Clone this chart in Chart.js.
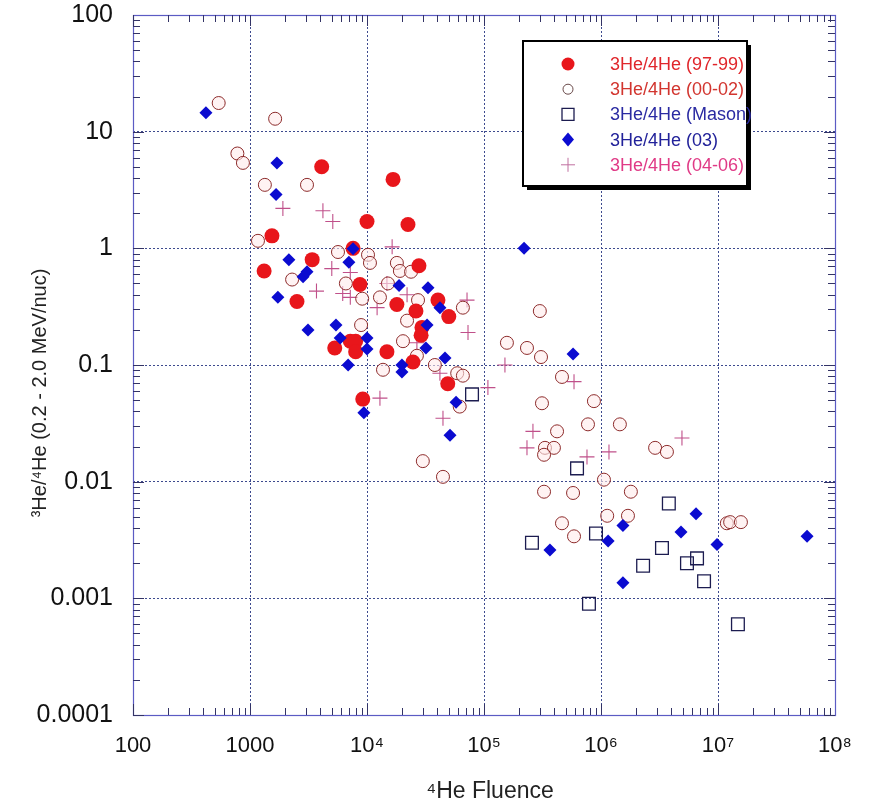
<!DOCTYPE html>
<html>
<head>
<meta charset="utf-8">
<script src="https://cdn.jsdelivr.net/npm/chart.js@4.4.1/dist/chart.umd.min.js"></script>
<style>
  html, body { margin: 0; padding: 0; background: #fff; }
  #wrap { width: 876px; height: 807px; position: relative; }
</style>
</head>
<body>
<div id="wrap"><canvas id="heChart" width="876" height="807"></canvas></div>
<script>
// --- data (4He fluence vs 3He/4He ratio) ---
var fluence9799 = [4100, 16700, 10000, 22400, 1540, 7600, 3400, 1320, 8700, 2520, 27800, 18000, 40400, 26200, 50000, 29500, 29000, 5300, 7200, 8000, 8000, 14800, 24700, 49000, 9200];
var ratio9799   = [5.0, 3.9, 1.7, 1.6, 1.28, 1.0, 0.80, 0.64, 0.49, 0.35, 0.71, 0.33, 0.36, 0.29, 0.26, 0.21, 0.18, 0.14, 0.16, 0.16, 0.13, 0.13, 0.106, 0.069, 0.051];

var fluence0002 = [540, 1640, 780, 870, 1340, 3070, 1170, 5650, 10200, 10600, 2290, 6600, 9100, 12900, 18000, 19100, 23800, 15100, 27300, 66000, 22000, 20300, 26700, 38000, 59000, 66000, 62000, 13700, 30000, 44600, 300000, 157000, 233000, 307000, 464000, 313000, 870000, 774000, 1450000, 421000, 332000, 396000, 326000, 2900000, 3660000, 1060000, 326000, 577000, 1800000, 1130000, 1700000, 464000, 588000, 11900000, 12700000, 15700000, 8900];
var ratio0002   = [17.6, 12.9, 6.5, 5.4, 3.5, 3.5, 1.16, 0.93, 0.88, 0.75, 0.54, 0.50, 0.37, 0.38, 0.75, 0.64, 0.63, 0.50, 0.36, 0.31, 0.24, 0.16, 0.12, 0.10, 0.085, 0.081, 0.044, 0.091, 0.015, 0.011, 0.29, 0.155, 0.14, 0.117, 0.079, 0.047, 0.049, 0.031, 0.031, 0.027, 0.0195, 0.0195, 0.017, 0.0195, 0.018, 0.0104, 0.0082, 0.0080, 0.0082, 0.0051, 0.0051, 0.0044, 0.0034, 0.0044, 0.0045, 0.0045, 0.22];

var fluenceMason = [79000, 624000, 3800000, 257000, 906000, 3320000, 2290000, 5430000, 6620000, 7600000, 789000, 14800000];
var ratioMason   = [0.056, 0.013, 0.0065, 0.0030, 0.0036, 0.0027, 0.0019, 0.0020, 0.0022, 0.0014, 0.0009, 0.0006];

var fluence03 = [420, 1700, 1670, 2150, 7600, 7000, 2840, 3070, 1730, 3130, 5430, 5900, 10000, 10000, 6900, 9400, 18800, 33200, 42000, 32600, 31900, 19900, 19900, 46400, 57700, 51200, 220000, 577000, 366000, 1150000, 1540000, 1540000, 4830000, 6490000, 9800000, 57700000];
var ratio03   = [14.5, 5.4, 2.9, 0.8, 0.99, 0.76, 0.57, 0.63, 0.38, 0.20, 0.22, 0.17, 0.17, 0.137, 0.10, 0.039, 0.48, 0.46, 0.31, 0.22, 0.14, 0.10, 0.087, 0.115, 0.048, 0.025, 1.0, 0.124, 0.0026, 0.0031, 0.0042, 0.00136, 0.0037, 0.0053, 0.0029, 0.0034];

var fluence0406 = [1910, 4200, 5100, 5000, 7200, 3700, 6200, 7200, 14800, 12200, 16400, 22000, 71600, 73000, 26700, 42000, 12900, 44600, 108000, 151000, 262000, 588000, 233000, 759000, 1170000, 4920000];
var ratio0406   = [2.2, 2.1, 1.7, 0.67, 0.62, 0.43, 0.41, 0.38, 0.5, 0.31, 1.03, 0.40, 0.36, 0.19, 0.155, 0.085, 0.052, 0.035, 0.064, 0.10, 0.027, 0.072, 0.0195, 0.0163, 0.018, 0.0237];

// axis ticks
var xTickValues = [1e2, 1e3, 1e4, 1e5, 1e6, 1e7, 1e8];
var xTickLabels = ['100', '1000', '10\u2074', '10\u2075', '10\u2076', '10\u2077', '10\u2078'];
var yTickValues = [1e-4, 1e-3, 1e-2, 1e-1, 1, 10, 100];
var yTickLabels = ['0.0001', '0.001', '0.01', '0.1', '1', '10', '100'];

var axisColor = '#5b5bc4';
var gridColor = '#3d4a8e';
var FONT = 'Arial, "Liberation Sans", sans-serif';

function toPoints(xs, ys) {
    return xs.map(function(x, i) { return { x: x, y: ys[i] }; });
}

function labelFor(values, labels, v) {
    for (var i = 0; i < values.length; i++) {
        if (Math.abs(values[i] - v) <= values[i] * 1e-6) return labels[i];
    }
    return '';
}

// legend rows (drawn by hand, box sits inside the plot)
var legendRows = [
    { text: '3He/4He (97-99)',   color: '#e0262b', marker: 'dot' },
    { text: '3He/4He (00-02)',   color: '#d2352f', marker: 'ring' },
    { text: '3He/4He (Mason)',   color: '#2a2aa2', marker: 'square' },
    { text: '3He/4He (03)',      color: '#22229a', marker: 'diamond' },
    { text: '3He/4He (04-06)',   color: '#e03a86', marker: 'plus' }
];

function drawMarker(ctx, kind, x, y) {
    ctx.save();
    ctx.beginPath();
    if (kind === 'dot') {
        ctx.fillStyle = '#e8161b';
        ctx.arc(x, y, 6.5, 0, Math.PI * 2);
        ctx.fill();
    } else if (kind === 'ring') {
        ctx.strokeStyle = '#6a4a4a'; ctx.lineWidth = 1;
        ctx.arc(x, y, 5, 0, Math.PI * 2);
        ctx.stroke();
    } else if (kind === 'square') {
        ctx.strokeStyle = '#1c1c50'; ctx.lineWidth = 1.3;
        ctx.rect(x - 6, y - 6, 12, 12);
        ctx.stroke();
    } else if (kind === 'diamond') {
        ctx.fillStyle = '#0b0bd0';
        ctx.moveTo(x, y - 7); ctx.lineTo(x + 6, y); ctx.lineTo(x, y + 7); ctx.lineTo(x - 6, y);
        ctx.closePath();
        ctx.fill();
    } else if (kind === 'plus') {
        ctx.strokeStyle = '#c070a0'; ctx.lineWidth = 1;
        ctx.moveTo(x - 7, y); ctx.lineTo(x + 7, y);
        ctx.moveTo(x, y - 7); ctx.lineTo(x, y + 7);
        ctx.stroke();
    }
    ctx.restore();
}

var framePlugin = {
    id: 'frame',
    afterDraw: function(chart) {
        var ctx = chart.ctx;
        var a = chart.chartArea;
        var xs = chart.scales.x, ys = chart.scales.y;
        ctx.save();

        // plot frame
        ctx.strokeStyle = axisColor;
        ctx.lineWidth = 1.2;
        ctx.strokeRect(a.left + 0.5, a.top + 0.5, a.right - a.left, a.bottom - a.top);

        // inward minor ticks on all four sides
        ctx.strokeStyle = '#333366';
        ctx.lineWidth = 1;
        ctx.beginPath();
        var e, m, v, p, len;
        for (e = 2; e < 8; e++) {
            for (m = 1; m <= 9; m++) {
                v = m * Math.pow(10, e);
                p = Math.round(xs.getPixelForValue(v)) + 0.5;
                len = (m === 1) ? 11 : 7;
                ctx.moveTo(p, a.bottom); ctx.lineTo(p, a.bottom - len);
                ctx.moveTo(p, a.top); ctx.lineTo(p, a.top + len);
            }
        }
        for (e = -4; e < 2; e++) {
            for (m = 1; m <= 9; m++) {
                v = m * Math.pow(10, e);
                p = Math.round(ys.getPixelForValue(v)) + 0.5;
                len = (m === 1) ? 11 : 7;
                ctx.moveTo(a.left, p); ctx.lineTo(a.left + len, p);
                ctx.moveTo(a.right, p); ctx.lineTo(a.right - len, p);
            }
        }
        ctx.stroke();

        // axis titles
        ctx.fillStyle = '#222';
        ctx.font = '23px ' + FONT;
        ctx.textAlign = 'center';
        ctx.textBaseline = 'middle';
        ctx.fillText('\u2074He Fluence', 490, 792);
        ctx.save();
        ctx.translate(40, 393);
        ctx.rotate(-Math.PI / 2);
        ctx.font = '20px ' + FONT;
        ctx.fillText('\u00b3He/\u2074He (0.2 - 2.0 MeV/nuc)', 0, 0);
        ctx.restore();

        // legend box with shadow
        var bx = 523, by = 41, bw = 224, bh = 145;
        ctx.fillStyle = '#000';
        ctx.fillRect(bx + 4, by + 4, bw, bh);
        ctx.fillStyle = '#fff';
        ctx.fillRect(bx, by, bw, bh);
        ctx.strokeStyle = '#000';
        ctx.lineWidth = 2;
        ctx.strokeRect(bx, by, bw, bh);

        ctx.font = '18px ' + FONT;
        ctx.textAlign = 'left';
        legendRows.forEach(function(row, i) {
            var ry = 64 + i * 25.2;
            drawMarker(ctx, row.marker, 568, ry);
            ctx.fillStyle = row.color;
            ctx.fillText(row.text, 610, ry + 1);
        });
        ctx.restore();
    }
};

var ctx = document.getElementById('heChart').getContext('2d');
var heChart = new Chart(ctx, {
    type: 'scatter',
    data: {
        datasets: [
            { label: '3He/4He (97-99)', data: toPoints(fluence9799, ratio9799), order: 2,
              pointStyle: 'circle', pointRadius: 7.5, backgroundColor: '#e8161b', borderColor: '#e8161b', borderWidth: 0 },
            { label: '3He/4He (00-02)', data: toPoints(fluence0002, ratio0002), order: 3,
              pointStyle: 'circle', pointRadius: 6.5, backgroundColor: 'rgba(255,235,235,0.6)', borderColor: '#8c2a2a', borderWidth: 1 },
            { label: '3He/4He (Mason)', data: toPoints(fluenceMason, ratioMason), order: 4,
              pointStyle: 'rect', pointRadius: 9, backgroundColor: 'rgba(255,255,255,0)', borderColor: '#1c1c50', borderWidth: 1.3 },
            { label: '3He/4He (03)', data: toPoints(fluence03, ratio03), order: 1,
              pointStyle: 'rectRot', pointRadius: 6.5, backgroundColor: '#0b0bd0', borderColor: '#0b0bd0', borderWidth: 0 },
            { label: '3He/4He (04-06)', data: toPoints(fluence0406, ratio0406), order: 5,
              pointStyle: 'cross', pointRadius: 7.5, backgroundColor: '#c0508a', borderColor: '#c0508a', borderWidth: 1.1 }
        ]
    },
    options: {
        responsive: false,
        animation: false,
        layout: { padding: { top: 15, right: 41, left: 0, bottom: 0 } },
        plugins: { legend: { display: false }, tooltip: { enabled: false } },
        elements: { point: { hoverRadius: 8 } },
        scales: {
            x: {
                type: 'logarithmic',
                min: 100, max: 1e8,
                afterBuildTicks: function(scale) {
                    scale.ticks = xTickValues.map(function(v) { return { value: v }; });
                },
                afterFit: function(scale) {
                    scale.height = 92;
                    scale.paddingLeft = 0; scale.paddingRight = 0;
                },
                ticks: {
                    autoSkip: false, maxRotation: 0, padding: 18,
                    color: '#111', font: { size: 22, family: FONT },
                    callback: function(v) { return labelFor(xTickValues, xTickLabels, v); }
                },
                grid: { color: gridColor, lineWidth: 1, drawTicks: false },
                border: { display: false, dash: [2, 2] }
            },
            y: {
                type: 'logarithmic',
                min: 1e-4, max: 100,
                afterBuildTicks: function(scale) {
                    scale.ticks = yTickValues.map(function(v) { return { value: v }; });
                },
                afterFit: function(scale) {
                    scale.width = 133;
                    scale.paddingTop = 0; scale.paddingBottom = 0;
                },
                ticks: {
                    autoSkip: false, padding: 20,
                    color: '#111', font: { size: 25, family: FONT },
                    callback: function(v) { return labelFor(yTickValues, yTickLabels, v); }
                },
                grid: { color: gridColor, lineWidth: 1, drawTicks: false },
                border: { display: false, dash: [2, 2] }
            }
        }
    },
    plugins: [framePlugin]
});
</script>
</body>
</html>
